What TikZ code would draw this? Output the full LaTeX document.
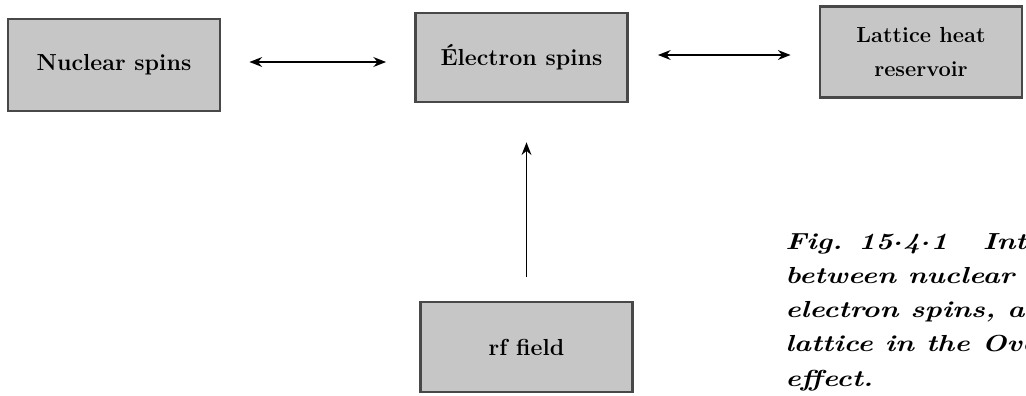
\documentclass[tikz,border=0pt]{standalone}
\usepackage{fontspec}
\usepackage{tikz}
\usetikzlibrary{arrows.meta, positioning}
\definecolor{ovBox}{HTML}{C6C6C6}
\definecolor{ovEdge}{HTML}{484848}
\newfontfamily\capfont[FakeStretch=1.25]{Latin Modern Roman}
\newcommand\ovdot{\raisebox{0.42ex}{.}}

\begin{document}
\begin{tikzpicture}[
  x=0.025cm, y=-0.025cm,
  block/.style={draw=ovEdge, fill=ovBox, line width=2pt, minimum width=#1,
                minimum height=2.3cm, align=center, inner sep=0pt,
                font=\fontsize{16.5}{24.5}\selectfont\bfseries},
  block/.default=5.3cm,
  link/.style={line width=1.2pt, {Stealth[length=9pt,width=7pt]}-{Stealth[length=9pt,width=7pt]}},
  feed/.style={line width=1.2pt, -{Stealth[length=9pt,width=7pt]}},
]
  \useasboundingbox (0,0) rectangle (1026,395);
  \clip (0,0) rectangle (1026,395);

  \node[block] (nuc) at (114,65) {Nuclear spins};
  \node[block, minimum height=2.22cm] (ele) at (521.5,57.5) {Électron spins};
  \node[block=5.05cm, minimum height=2.28cm, font=\fontsize{15.5}{24.5}\selectfont\bfseries]
    (lat) at (921,52) {Lattice heat\\reservoir};
  \node[block, minimum height=2.25cm] (rf) at (526.5,347) {rf field};

  \draw[link] ([shift={(28,-3)}]nuc.east) -- ([shift={(-28,4.5)}]ele.west);
  \draw[link] ([shift={(29,-2.5)}]ele.east) -- ([shift={(-28,3)}]lat.west);
  \draw[feed] ([shift={(0,-24)}]rf.north) -- ([shift={(5,39)}]ele.south);

  % caption, runs past the right edge as in the scan
  \node[anchor=base west, align=left, inner sep=0pt,
        font=\capfont\fontsize{16.5}{24.2}\selectfont\bfseries\itshape] (cap) at (785,386)
    {Fig. 15\ovdot4\ovdot1\quad\ Interaction\\between nuclear spins,\\electron spins, and the\\
     lattice in the Overhauser\\effect.};
\end{tikzpicture}
\end{document}
